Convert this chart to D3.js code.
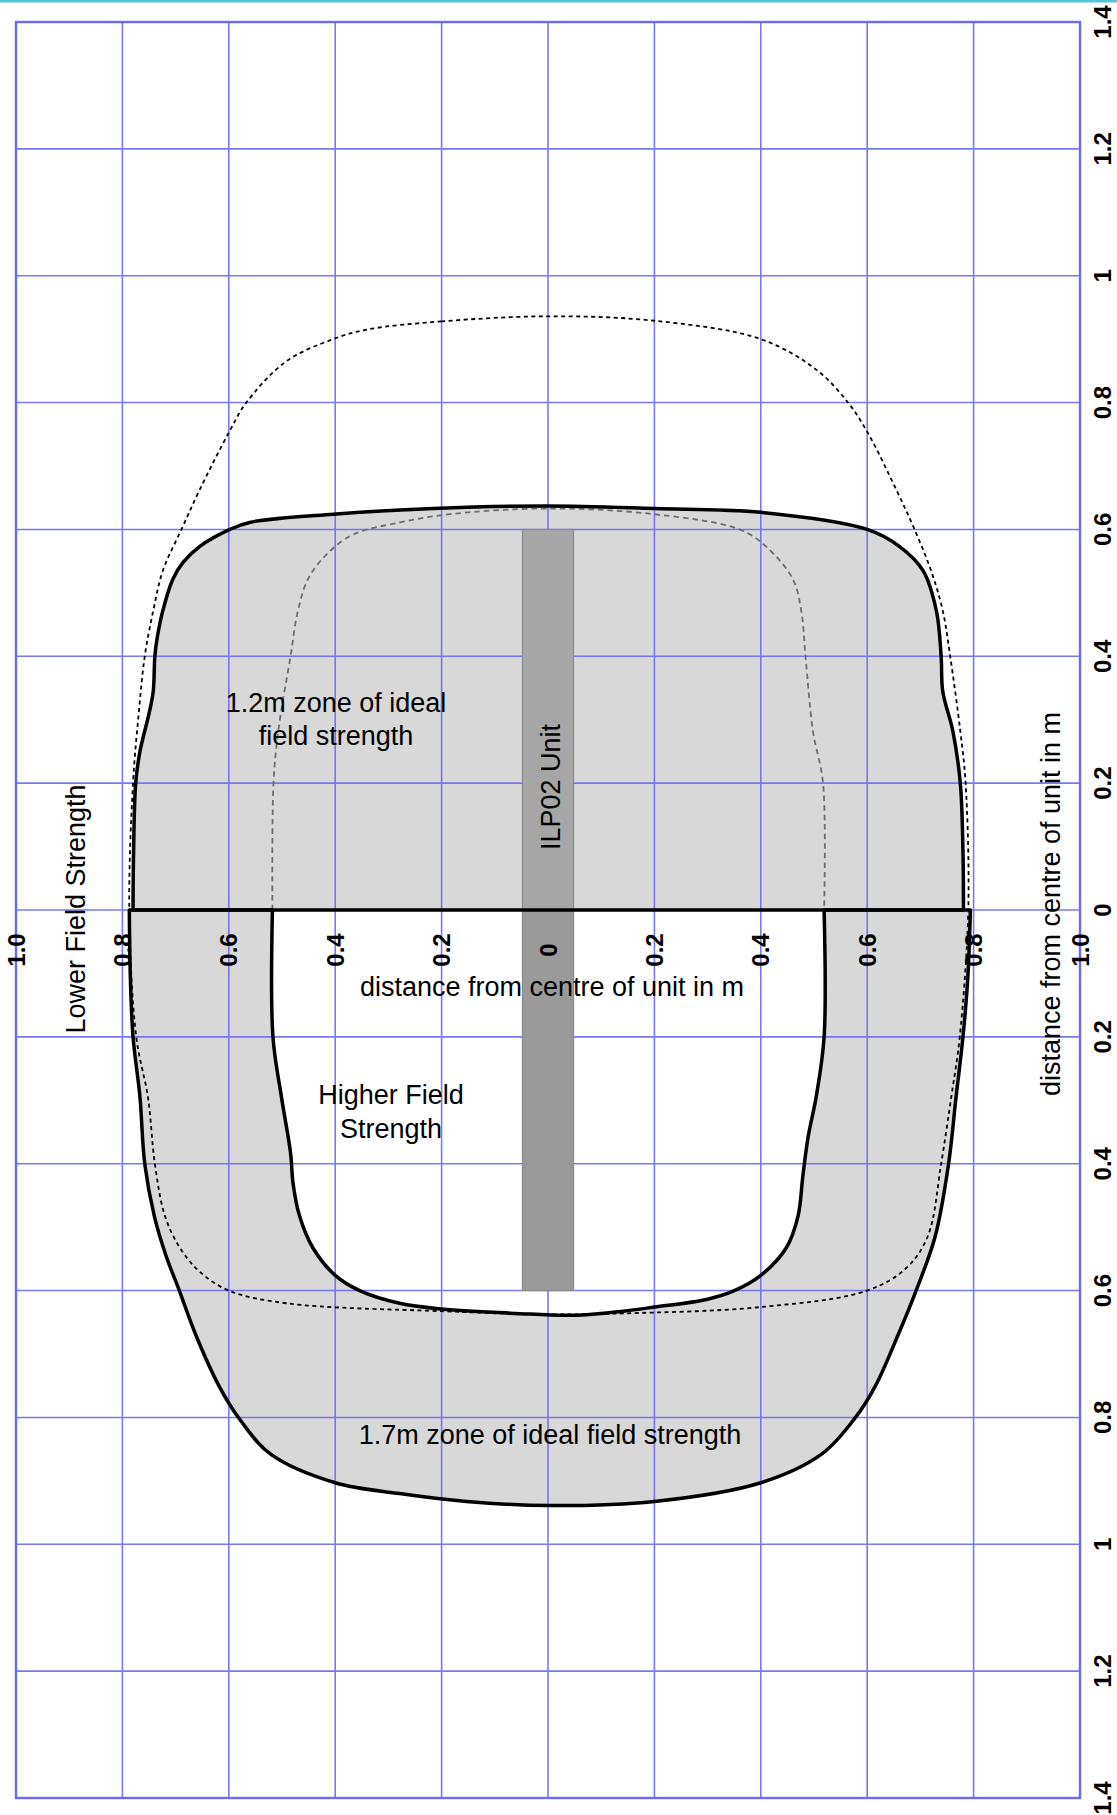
<!DOCTYPE html>
<html>
<head>
<meta charset="utf-8">
<script src="https://cdn.jsdelivr.net/npm/d3@7"></script>
<style>
html,body{margin:0;padding:0;background:#fff;}
svg{display:block;}
text{font-family:"Liberation Sans",Arial,sans-serif;fill:#000;}
</style>
</head>
<body>
<script>
// ---- data ----
const xTickValues = [-1.0,-0.8,-0.6,-0.4,-0.2,0,0.2,0.4,0.6,0.8,1.0];
const xTickLabels = ["1.0","0.8","0.6","0.4","0.2","0","0.2","0.4","0.6","0.8","1.0"];
const yTickValues = [1.4,1.2,1.0,0.8,0.6,0.4,0.2,0,-0.2,-0.4,-0.6,-0.8,-1.0,-1.2,-1.4];
const yTickLabels = ["1.4","1.2","1","0.8","0.6","0.4","0.2","0","0.2","0.4","0.6","0.8","1","1.2","1.4"];

// 1.2m zone (upper half), closed along y = 0
const upperZone = [[-0.780,0],[-0.779,0.09],[-0.775,0.2],[-0.767,0.25],[-0.749,0.313],[-0.742,0.345],[-0.739,0.4],[-0.735,0.427],[-0.724,0.472],[-0.705,0.522],[-0.686,0.548],[-0.655,0.573],[-0.598,0.6],[-0.561,0.611],[-0.404,0.624],[-0.216,0.633],[0,0.637],[0.2,0.633],[0.4,0.627],[0.6,0.6],[0.661,0.573],[0.705,0.535],[0.73,0.472],[0.739,0.4],[0.742,0.345],[0.761,0.282],[0.775,0.2],[0.78,0.092],[0.781,0]];

// 1.7m zone (lower half): outer edge and inner (higher field) edge
const lowerOuter = [[-0.787,0],[-0.785,-0.108],[-0.78,-0.2],[-0.767,-0.295],[-0.758,-0.4],[-0.74,-0.4825],[-0.718,-0.545],[-0.693,-0.6],[-0.662,-0.67],[-0.618,-0.751],[-0.582,-0.8],[-0.522,-0.8575],[-0.4,-0.903],[-0.279,-0.92],[-0.153,-0.9325],[0,-0.939],[0.2,-0.9325],[0.4,-0.903],[0.515,-0.8575],[0.578,-0.8],[0.615,-0.751],[0.658,-0.67],[0.692,-0.6],[0.728,-0.514],[0.753,-0.4],[0.767,-0.295],[0.78,-0.2],[0.789,-0.108],[0.794,0]];
const lowerInner = [[0.519,0],[0.519,-0.2],[0.504,-0.295],[0.489,-0.3575],[0.479,-0.42],[0.47,-0.4825],[0.448,-0.5325],[0.4,-0.576],[0.348,-0.601],[0.298,-0.614],[0.2,-0.626],[0.141,-0.6325],[0.047,-0.639],[-0.06,-0.636],[-0.2,-0.629],[-0.279,-0.62],[-0.354,-0.6],[-0.4,-0.576],[-0.442,-0.5325],[-0.467,-0.4825],[-0.479,-0.4325],[-0.484,-0.3825],[-0.501,-0.295],[-0.517,-0.2],[-0.518,0]];

// outer dotted contour (closed loop)
const outerDotted = [[0,0.936],[-0.2,0.928],[-0.341,0.915],[-0.404,0.9],[-0.492,0.865],[-0.567,0.8],[-0.601,0.751],[-0.655,0.662],[-0.689,0.6],[-0.724,0.535],[-0.742,0.472],[-0.758,0.4],[-0.769,0.313],[-0.78,0.2],[-0.787,0],[-0.774,-0.2],[-0.752,-0.295],[-0.739,-0.4],[-0.72,-0.4825],[-0.692,-0.5325],[-0.655,-0.57],[-0.6,-0.6],[-0.492,-0.62],[-0.2,-0.6325],[0,-0.6375],[0.141,-0.636],[0.4,-0.626],[0.6,-0.6],[0.674,-0.564],[0.714,-0.514],[0.739,-0.4],[0.758,-0.295],[0.774,-0.2],[0.79,0],[0.785,0.2],[0.775,0.282],[0.756,0.4],[0.742,0.472],[0.72,0.535],[0.689,0.6],[0.655,0.662],[0.602,0.751],[0.564,0.8],[0.504,0.852],[0.4,0.9],[0.2,0.929]];

// inner grey dashed contour (upper half only)
const innerDashed = [[-0.518,0],[-0.516,0.2],[-0.507,0.282],[-0.484,0.4],[-0.47,0.472],[-0.451,0.522],[-0.417,0.56],[-0.366,0.592],[-0.279,0.611],[-0.185,0.624],[0,0.633],[0.2,0.624],[0.36,0.6],[0.41,0.573],[0.46,0.522],[0.476,0.472],[0.484,0.4],[0.498,0.282],[0.517,0.2],[0.519,0]];

// ILP02 unit bar: [x0, x1, y0, y1]
const unitUpper = [-0.048, 0.048, 0, 0.6];
const unitLower = [-0.048, 0.048, -0.6, 0];

// ---- drawing ----
const W = 1117, H = 1815;
const x = d3.scaleLinear().domain([-1, 1]).range([16, 1080]);
const y = d3.scaleLinear().domain([1.4, -1.4]).range([22, 1798]);

const svg = d3.select("body").append("svg").attr("width", W).attr("height", H);
svg.append("rect").attr("width", W).attr("height", H).attr("fill", "#fff");
svg.append("rect").attr("x", 0).attr("y", 0).attr("width", W).attr("height", 2.5).attr("fill", "#52c4d8");

const line = d3.line().x(d => x(d[0])).y(d => y(d[1])).curve(d3.curveCatmullRom.alpha(0.5));
const closedLine = d3.line().x(d => x(d[0])).y(d => y(d[1])).curve(d3.curveCatmullRomClosed.alpha(0.5));

const upperD = line(upperZone) + "Z";
const lowerD = line(lowerOuter) + line(lowerInner).replace(/^M/, "L") + "Z";

// fills
svg.append("path").attr("d", upperD).attr("fill", "#d8d8d8");
svg.append("path").attr("d", lowerD).attr("fill", "#d8d8d8");

// grid
const grid = svg.append("g").attr("stroke", "#6b6bf2").attr("stroke-width", 1.6).attr("opacity", 0.9);
grid.selectAll("line.v").data(xTickValues).join("line")
  .attr("x1", d => x(d)).attr("x2", d => x(d)).attr("y1", y(1.4)).attr("y2", y(-1.4));
grid.selectAll("line.h").data(yTickValues).join("line")
  .attr("class", "h")
  .attr("x1", x(-1)).attr("x2", x(1)).attr("y1", d => y(d)).attr("y2", d => y(d));
svg.append("rect").attr("x", x(-1)).attr("y", y(1.4)).attr("width", x(1) - x(-1)).attr("height", y(-1.4) - y(1.4))
  .attr("fill", "none").attr("stroke", "#6b6bf2").attr("stroke-width", 2.4);

// unit bar
[[unitUpper, "#a6a6a6"], [unitLower, "#9a9a9a"]].forEach(([r, c]) => {
  svg.append("rect").attr("x", x(r[0])).attr("y", y(r[3]))
    .attr("width", x(r[1]) - x(r[0])).attr("height", y(r[2]) - y(r[3]))
    .attr("fill", c).attr("stroke", "#8a8a8a").attr("stroke-width", 1.2);
});

// dotted contours
svg.append("path").attr("d", closedLine(outerDotted)).attr("fill", "none")
  .attr("stroke", "#000").attr("stroke-width", 1.8).attr("stroke-dasharray", "4 3.5");
svg.append("path").attr("d", line(innerDashed)).attr("fill", "none")
  .attr("stroke", "#6e6e6e").attr("stroke-width", 1.8).attr("stroke-dasharray", "5.5 4");

// zone outlines
svg.append("path").attr("d", lowerD).attr("fill", "none").attr("stroke", "#000").attr("stroke-width", 3.5).attr("stroke-linejoin", "round");
svg.append("path").attr("d", upperD).attr("fill", "none").attr("stroke", "#000").attr("stroke-width", 3.5).attr("stroke-linejoin", "round");

// tick labels along y = 0 (rotated)
svg.append("g").selectAll("text").data(xTickValues).join("text")
  .attr("transform", d => `translate(${x(d)},${y(0) + 40}) rotate(-90)`)
  .attr("text-anchor", "middle").attr("dominant-baseline", "central")
  .attr("font-size", 24).attr("font-weight", "bold")
  .text((d, i) => xTickLabels[i]);

// right axis labels (rotated)
svg.append("g").selectAll("text").data(yTickValues).join("text")
  .attr("transform", d => `translate(1102,${y(d)}) rotate(-90)`)
  .attr("text-anchor", "middle").attr("dominant-baseline", "central")
  .attr("font-size", 24).attr("font-weight", "bold")
  .text((d, i) => yTickLabels[i]);

// titles & annotations
function txt(s, px, py, opt = {}) {
  const t = svg.append("text").attr("font-size", opt.size || 27).attr("text-anchor", "middle");
  if (opt.rot) t.attr("transform", `translate(${px},${py}) rotate(-90)`).attr("dominant-baseline", "central");
  else t.attr("x", px).attr("y", py);
  t.text(s);
}
txt("distance from centre of unit in m", 552, 996);
txt("distance from centre of unit in m", 1051, 904, {rot: true});
txt("Lower Field Strength", 76, 909, {rot: true});
txt("ILP02 Unit", 551, 787, {rot: true});
txt("1.2m zone of ideal", 336, 712);
txt("field strength", 336, 745);
txt("Higher Field", 391, 1104);
txt("Strength", 391, 1138);
txt("1.7m zone of ideal field strength", 550, 1444);
</script>
</body>
</html>
